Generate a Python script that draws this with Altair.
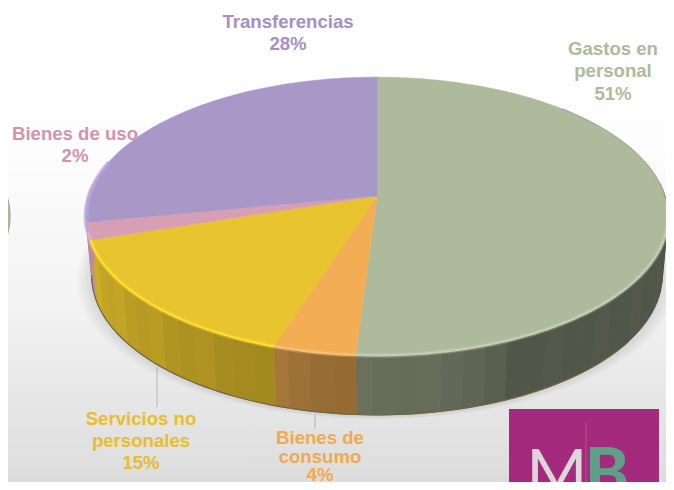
import numpy as np
import altair as alt

# ---- data ----
CATEGORIES = ["Gastos en personal", "Bienes de consumo", "Servicios no personales", "Bienes de uso", "Transferencias"]
SHARES = [51, 4, 15, 2, 28]
LABEL_LINES = [["Gastos en", "personal", "51%"], ["Bienes de", "consumo", "4%"],
               ["Servicios no", "personales", "15%"], ["Bienes de uso", "2%"], ["Transferencias", "28%"]]

# ---- styling and layout ----
TOP = ["#aeba9c", "#f3ae55", "#e8c42e", "#d89fb4", "#a998c7"]
WALL = ["#aeba9c", "#f3ae55", "#e8c42e", "#d89fb4", "#d89fb4"]
TXT = ["#aeba9c", "#f3a94e", "#e9bd2c", "#d592ab", "#a58fc9"]
RIM = ["#c4ceb4", "#f9bf72", "#ffdd33", "#e6b3c6", "#b8a8dc"]
LABEL_AT = [(613, 49, 22.3), (320, 438, 18.7), (141, 419, 22.0), (75, 134, 22.0), (288, 22, 22.0)]
W, H, OFF = 658, 474, 8
CX, Y0, A, B, K = 377, 196, 288, 136, 0.144
DEPTH, SHRINK = 60, 0.98


def pt(theta, dy=0.0, s=1.0, dx=0.0):
    t = np.radians(theta)
    u, v = np.sin(t), np.cos(t)
    w = 1 + K * v
    return [float(CX + dx + s * A * u / w - OFF), float(Y0 + dy - B * v / w - OFF)]


def arc(a, b, **kw):
    n = max(2, int(abs(b - a) / 1.5) + 1)
    return [pt(t, **kw) for t in np.linspace(a, b, n)]


def feat(kind, coords, color):
    geom = {"type": "Polygon", "coordinates": [coords + [coords[0]]]} if kind == "poly" else {"type": "LineString", "coordinates": coords}
    return {"type": "Feature", "geometry": geom, "properties": {"c": color}}


def shade(hex_color, f):
    rgb = [int(hex_color[i:i + 2], 16) for i in (1, 3, 5)]
    return "#%02x%02x%02x" % tuple(min(255, int(c * f)) for c in rgb)


PROJ = dict(type="identity", scale=1, translate=[0, 0])


def geo(features, **mark):
    return alt.Chart(alt.Data(values=features)).mark_geoshape(**mark).encode(
        color=alt.Color("properties.c:N", scale=None),
        stroke=alt.Stroke("properties.c:N", scale=None),
    ).project(**PROJ)


cum = np.concatenate([[0], np.cumsum(SHARES)]) * 3.6
slices = list(zip(cum[:-1], cum[1:]))

# background
bg = alt.Chart(alt.Data(values=[{"a": 1}])).mark_rect(
    color=alt.LinearGradient(gradient="linear", x1=0, x2=0, y1=0, y2=1, stops=[
        alt.GradientStop(color="#ffffff", offset=0), alt.GradientStop(color="#fdfdfd", offset=0.3),
        alt.GradientStop(color="#f3f3f3", offset=0.62), alt.GradientStop(color="#dcdcdc", offset=1)])
).encode(x=alt.value(0), x2=alt.value(W), y=alt.value(0), y2=alt.value(H))

# soft shadow under the base
shadow_feats = []
for grow in (3, 6, 9, 12, 15):
    r = 1 + grow / 288
    ring = [pt(t, dy=DEPTH + grow * 0.3, s=SHRINK * r) for t in np.arange(75, 285, 3)]
    shadow_feats.append(feat("poly", ring, "#000000"))
shadow = geo(shadow_feats, opacity=0.02, strokeWidth=0)

# neighbouring pie, cut off at the left edge
side_feats = [feat("poly", arc(40, 170, dx=-658) + arc(170, 40, dy=DEPTH, s=SHRINK, dx=-658), "#555a46"),
              feat("poly", arc(0, 180, dx=-658) + [pt(0, dx=-658)], "#aeba9c")]

# walls, as strips along the front of each slice
F_T = [90, 155, 165, 183, 198, 205, 252, 262, 280]
F_V = [0.47, 0.47, 0.57, 0.6, 0.68, 0.72, 0.88, 0.88, 0.9]
walls = []
for (a, b), col in zip(slices, WALL):
    lo, hi = max(a, 85), min(b, 280)
    if hi <= lo:
        continue
    edges = np.arange(lo, hi, 4.0).tolist() + [hi]
    for i, (p, q) in enumerate(zip(edges[:-1], edges[1:])):
        f = np.interp((p + q) / 2, F_T, F_V) * (1.015 if i % 3 == 0 else 0.99)
        walls.append(feat("poly", arc(p, q) + arc(q, p, dy=DEPTH, s=SHRINK), shade(col, f)))

# top of each slice
tops = [feat("poly", [[float(CX - OFF), float(Y0 - OFF)]] + arc(a, b), c) for (a, b), c in zip(slices, TOP)]

# bright rim along the front of the top, dark line under the base and along the back
rims = []
for (a, b), c in zip(slices, RIM):
    lo, hi = max(a, 100), min(b, 275)
    if hi > lo:
        rims.append(feat("line", arc(lo, hi, dy=0.5), c))
rims.append(feat("line", arc(255, 285), RIM[4]))
base_line = [feat("line", arc(125, 262, dy=DEPTH, s=SHRINK), "#6f6540")]
back_line = [feat("line", arc(45, 95), "#949c85")]

# leader lines
leaders = alt.Chart(alt.Data(values=[{"x": 157 - OFF, "y": 367 - OFF, "y2": 407 - OFF}, {"x": 315 - OFF, "y": 414 - OFF, "y2": 429 - OFF}])).mark_rule(
    color="#b5b5b5", strokeWidth=1
).encode(x=alt.X("x:Q", scale=None), y=alt.Y("y:Q", scale=None), y2="y2:Q")

# labels
label_rows = [{"t": ln, "c": TXT[i], "x": LABEL_AT[i][0] - OFF, "y": LABEL_AT[i][1] + j * LABEL_AT[i][2] - OFF}
              for i, lines in enumerate(LABEL_LINES) for j, ln in enumerate(lines)]
labels = alt.Chart(alt.Data(values=label_rows)).mark_text(
    font="Liberation Sans", fontWeight="bold", fontSize=18.6, align="center", baseline="middle"
).encode(x=alt.X("x:Q", scale=None), y=alt.Y("y:Q", scale=None), text="t:N", color=alt.Color("c:N", scale=None))

# logo
logo_box = alt.Chart(alt.Data(values=[{"a": 1}])).mark_rect(color="#a42a7e").encode(
    x=alt.value(509 - OFF), x2=alt.value(659 - OFF), y=alt.value(409 - OFF), y2=alt.value(H))
logo_div = alt.Chart(alt.Data(values=[{"a": 1}])).mark_rule(color="#b3528f", strokeWidth=1).encode(
    x=alt.value(586 - OFF), y=alt.value(422 - OFF), y2=alt.value(H))
logo_m = alt.Chart(alt.Data(values=[{"t": "M"}])).mark_text(
    font="Lato", fontSize=66, fontWeight=400, color="#dcd6dc", align="center", baseline="alphabetic"
).encode(x=alt.value(557 - OFF), y=alt.value(496 - OFF), text="t:N")
logo_b = alt.Chart(alt.Data(values=[{"t": "B"}])).mark_text(
    font="Lato", fontSize=66, fontWeight=900, color="#5f9f88", align="center", baseline="alphabetic"
).encode(x=alt.value(607 - OFF), y=alt.value(496 - OFF), text="t:N")

chart = alt.layer(
    bg, shadow, geo(side_feats, strokeWidth=0.5), geo(walls, strokeWidth=0.8),
    geo(base_line, filled=False, strokeWidth=1.2), geo(tops, strokeWidth=0.5),
    geo(rims, filled=False, strokeWidth=5, opacity=0.3), geo(rims, filled=False, strokeWidth=2.2),
    geo(back_line, filled=False, strokeWidth=0.8),
    leaders, labels, logo_box, logo_div, logo_m, logo_b,
).properties(width=W, height=H, padding=0, autosize=alt.AutoSizeParams(type="none")).configure_view(stroke=None)

chart.save("out.html", embed_options={"renderer": "svg", "actions": False})
